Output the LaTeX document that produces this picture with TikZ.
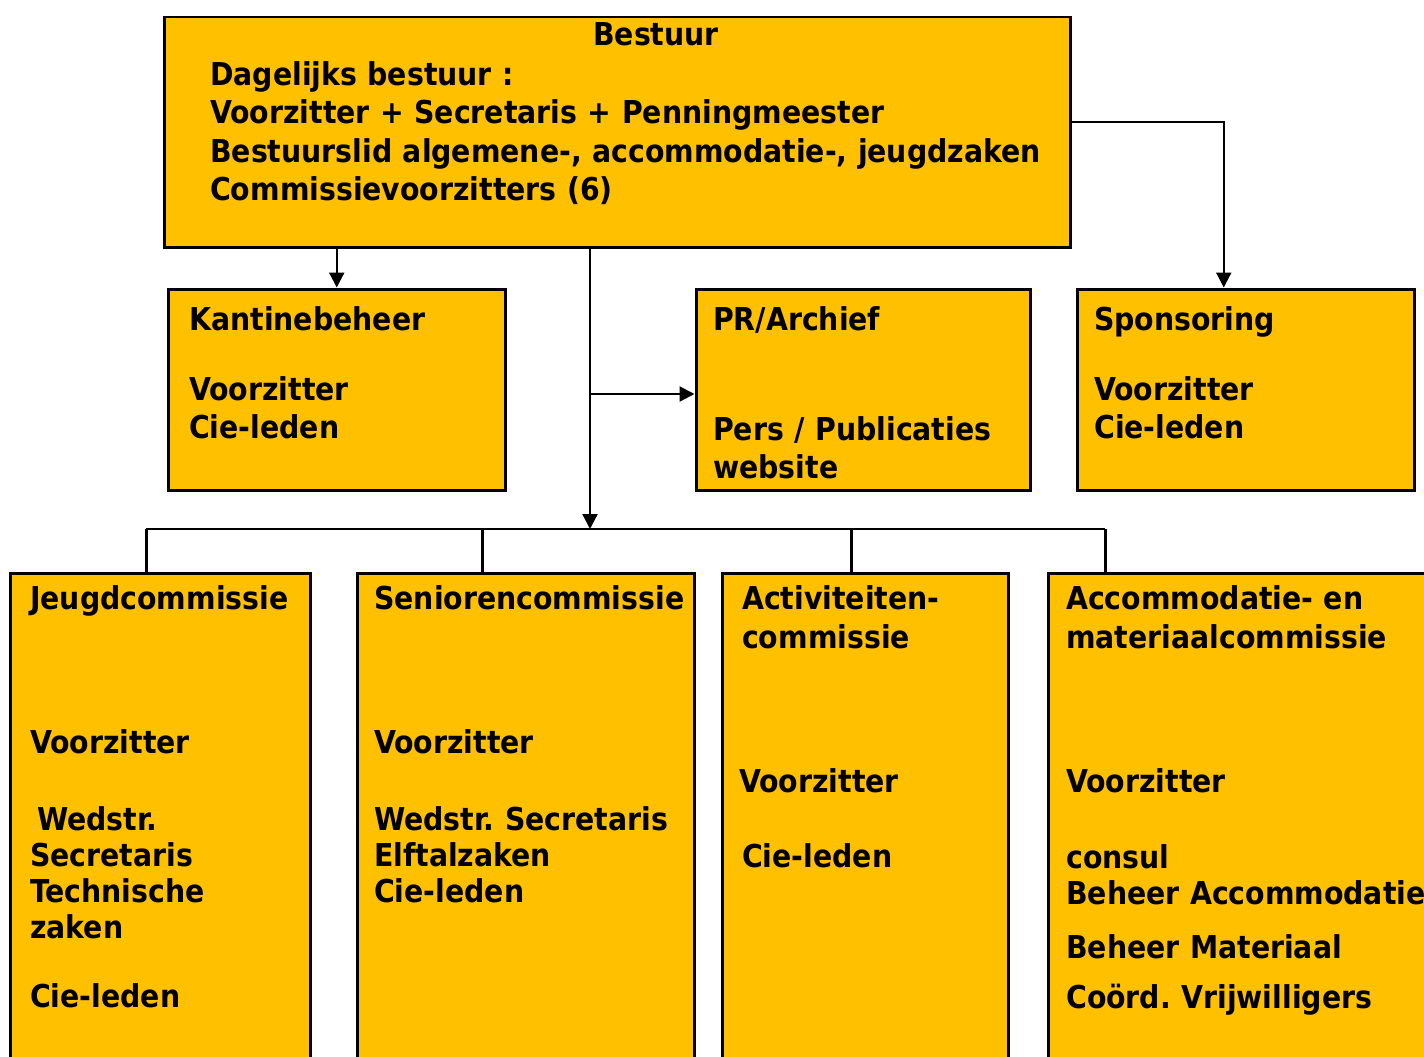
\documentclass[tikz,border=0pt]{standalone}
\usepackage{fontspec}
\setmainfont{DejaVu Sans Condensed}
\usetikzlibrary{arrows.meta,positioning}
\definecolor{orggeel}{RGB}{255,192,0}
\frenchspacing

\begin{document}
\begin{tikzpicture}[%
      x=1pt, y=-1pt,
      box/.style={draw=black, line width=2.5pt, fill=orggeel, anchor=north west, inner sep=0pt},
      dikbox/.style={box, line width=3.5pt},
      txt/.style={anchor=base west, align=left, text width=1000pt, inner sep=0pt,
                  font=\bfseries\fontsize{31.5}{38.5}\selectfont},
      txtlaag/.style={txt, font=\bfseries\fontsize{31.5}{36}\selectfont},
      pijl/.style={line width=2.2pt, -{Triangle[length=15pt,width=15pt]}},
      lijn/.style={line width=2.5pt},
      ]
      \clip (0,0) rectangle (1424,1057);

      % bestuur
      \node[box, minimum width=906pt, minimum height=230pt] (bestuur) at (163,16) {};
      \node[txt, anchor=base, text width=] (bestuur-kop) at (656,46) {Bestuur};
      \node[txt] (bestuur-t) at (210,85) {Dagelijks bestuur :\\
            Voorzitter + Secretaris + Penningmeester\\
            Bestuurslid algemene-, accommodatie-, jeugdzaken\\
            Commissievoorzitters (6)};

      % middelste rij
      \node[dikbox, minimum width=337pt, minimum height=201pt] (kantine) at (166.5,287.5) {};
      \node[dikbox, minimum width=334pt, minimum height=201pt] (pr) at (694.5,287.5) {};
      \node[dikbox, minimum width=337pt, minimum height=201pt] (sponsor) at (1075.5,287.5) {};
      \node[txt] (kantine-t) at (189,330) {Kantinebeheer\\[31.5pt]Voorzitter\\Cie-leden};
      \node[txt] (pr-t) at (713,330) {PR/Archief\\[71.5pt]Pers / Publicaties\\website};
      \node[txt] (sponsor-t) at (1094,330) {Sponsoring\\[31.5pt]Voorzitter\\Cie-leden};

      % commissies
      \node[box, minimum width=300pt, minimum height=520pt] (jeugd) at (9,572) {};
      \node[box, minimum width=337pt, minimum height=520pt] (senioren) at (356,572) {};
      \node[box, minimum width=286pt, minimum height=520pt] (activ) at (721,572) {};
      \node[box, minimum width=420pt, minimum height=520pt] (accom) at (1047,572) {};
      \node[txtlaag] (jeugd-t) at (30,609) {Jeugdcommissie\\[108pt]Voorzitter\\[41pt]%
            \hspace*{7pt}Wedstr.\\Secretaris\\Technische\\zaken\\[33pt]Cie-leden};
      \node[txtlaag] (senioren-t) at (374,609) {Seniorencommissie\\[108pt]Voorzitter\\[41pt]%
            Wedstr. Secretaris\\Elftalzaken\\Cie-leden};
      \node[txtlaag] (activ-t) at (742,609) {Activiteiten-\\[3pt]commissie\\[108pt]%
            \hspace*{-3pt}Voorzitter\\[39pt]Cie-leden};
      \node[txtlaag] (accom-t) at (1066,609) {Accommodatie- en\\[3pt]materiaalcommissie\\[108pt]%
            Voorzitter\\[40pt]consul\\Beheer Accommodatie\\[18pt]Beheer Materiaal\\[14pt]%
            Coörd. Vrijwilligers};

      % verbindingen
      \coordinate (splits) at (590,394);
      \coordinate (bus) at (590,529);
      \draw[pijl] (bestuur.south -| kantine.north) -- (kantine.north);
      \draw[pijl] ([yshift=10pt]bestuur.east) -| ([xshift=-22pt]sponsor.north);
      \draw[pijl] (bestuur.south -| bus) -- (bus);
      \draw[pijl] (splits) -- (splits -| pr.west);
      \draw[lijn] ([xshift=-14pt]jeugd.north |- bus) -- ([xshift=-153pt]accom.north |- bus);
      \foreach \b/\dx in {jeugd/-14, senioren/-43.5, activ/-14, accom/-153}
        \draw[lijn] ([xshift=\dx pt]\b.north |- bus) -- ([xshift=\dx pt]\b.north);
\end{tikzpicture}
\end{document}
